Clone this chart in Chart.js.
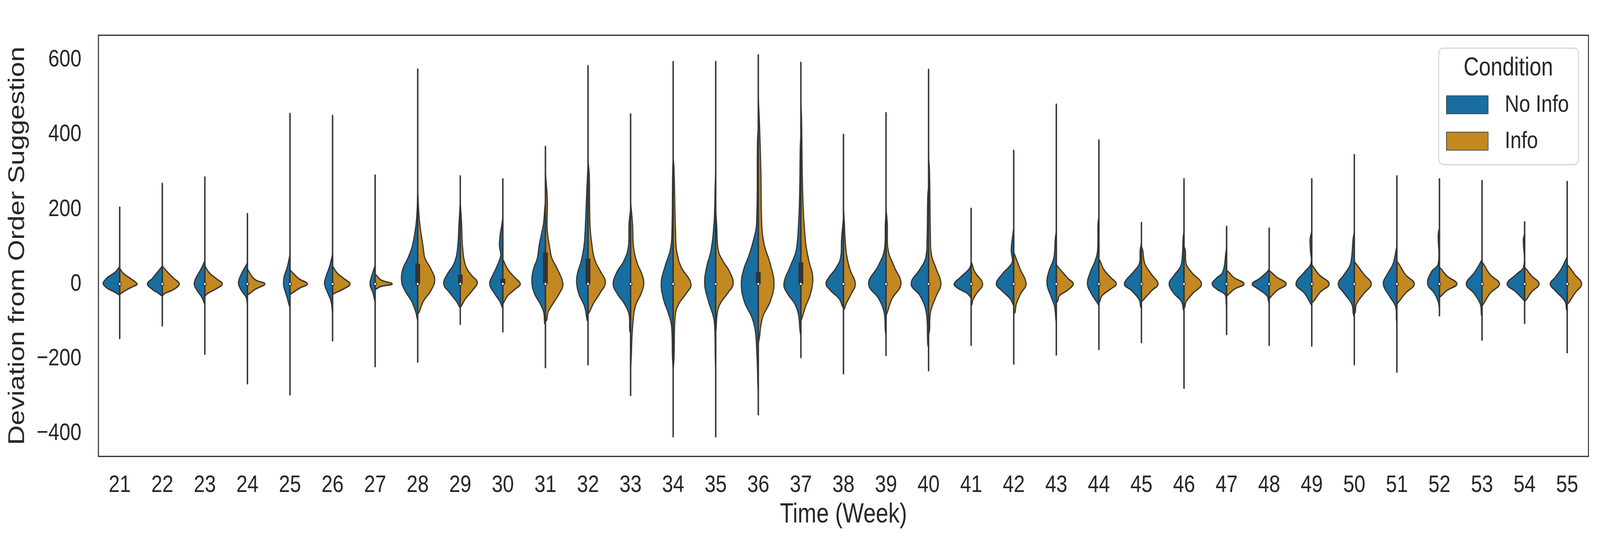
<!DOCTYPE html>
<html>
<head>
<meta charset="utf-8">
<title>Deviation from Order Suggestion by Week</title>
<script src="https://cdn.jsdelivr.net/npm/chart.js@4.4.1/dist/chart.umd.min.js"></script>
<style>
  html, body { margin: 0; padding: 0; background: #ffffff; overflow: hidden; }
  #wrap { position: absolute; left: 0; top: 0; width: 4991px; height: 1387px; transform-origin: 0 0; }
  canvas { display: block; }
</style>
</head>
<body>
<div id="wrap">
<canvas id="violinChart" width="4991" height="1387" style="width:4991px;height:1387px"></canvas>
</div>
<script>
const weeks = [21, 22, 23, 24, 25, 26, 27, 28, 29, 30, 31, 32, 33, 34, 35, 36, 37, 38,
  39, 40, 41, 42, 43, 44, 45, 46, 47, 48, 49, 50, 51, 52, 53, 54, 55];
const conditions = ['No Info', 'Info'];
const yTicks = [-400, -200, 0, 200, 400, 600];

// outline of each half violin, bottom to top: [deviation, half width in weeks]
const noInfoShape = [
  [[-30,0],[-22,.12],[-11,.30],[0,.39],[7,.37],[18,.28],[32,.10],[47,0]],
  [[-33,0],[-25,.09],[-14,.24],[0,.35],[14,.24],[32,.11],[48,0]],
  [[-56,0],[-36,.07],[-18,.18],[0,.25],[18,.20],[40,.09],[62,0]],
  [[-56,0],[-36,.03],[-18,.14],[0,.21],[14,.19],[32,.12],[56,0]],
  [[-65,0],[-32,.08],[-4,.15],[18,.14],[47,.06],[80,0]],
  [[-80,0],[-47,.035],[-25,.11],[0,.19],[18,.16],[47,.07],[80,0]],
  [[-50,0],[-25,.05],[0,.12],[25,.07],[50,0]],
  [[-100,0],[-76,.045],[-47,.14],[-18,.30],[7,.38],[40,.35],[69,.23],[105,.12],[170,.03],[250,0]],
  [[-64,0],[-61,.02],[-47,.09],[-25,.24],[0,.39],[25,.31],[54,.15],[90,.07],[162,.03],[220,0]],
  [[-65,0],[-61,.02],[-47,.07],[-25,.20],[0,.31],[25,.23],[47,.14],[76,.05],[100,.08],[126,.07],[162,.02],[180,0]],
  [[-110,0],[-105,.02],[-76,.04],[-54,.12],[-25,.26],[7,.32],[40,.28],[69,.19],[105,.145],[162,.045],[198,.02],[220,0]],
  [[-100,0],[-97,.02],[-61,.08],[-25,.22],[7,.27],[32,.24],[61,.16],[105,.09],[162,.06],[285,.015],[320,0]],
  [[-130,0],[-126,.02],[-83,.035],[-54,.14],[-25,.32],[0,.41],[32,.32],[61,.16],[97,.055],[162,.035],[200,0]],
  [[-230,0],[-198,.015],[-112,.04],[-76,.12],[-40,.23],[4,.28],[47,.19],[90,.07],[133,.03],[307,.01],[330,0]],
  [[-230,0],[-198,.01],[-126,.02],[-90,.05],[-47,.17],[0,.26],[47,.21],[90,.11],[162,.04],[271,.01],[300,0]],
  [[-300,0],[-271,.01],[-198,.03],[-126,.07],[-90,.15],[-47,.33],[0,.40],[40,.34],[76,.22],[119,.11],[162,.04],[379,.02],[420,0]],
  [[-140,0],[-126,.02],[-83,.055],[-54,.14],[-25,.32],[0,.40],[47,.25],[90,.11],[162,.055],[234,.03],[364,.015],[400,0]],
  [[-65,0],[-61,.02],[-40,.10],[-18,.30],[0,.41],[18,.34],[40,.19],[69,.07],[119,.045],[177,0]],
  [[-140,0],[-126,.015],[-76,.045],[-40,.17],[0,.41],[47,.19],[90,.04],[162,.015],[200,0]],
  [[-170,0],[-162,.02],[-76,.055],[-32,.20],[0,.41],[40,.20],[69,.07],[126,.035],[234,.02],[260,0]],
  [[-40,0],[-36,.015],[-25,.095],[-11,.32],[0,.40],[18,.25],[40,.05],[54,0]],
  [[-58,0],[-54,.02],[-40,.08],[-18,.28],[0,.41],[25,.28],[47,.10],[61,.03],[90,.06],[133,.02],[150,0]],
  [[-100,0],[-97,.01],[-61,.04],[-32,.13],[0,.22],[32,.18],[69,.06],[126,.02],[140,0]],
  [[-58,0],[-54,.02],[-25,.18],[0,.27],[32,.20],[61,.09],[90,.03],[162,.02],[180,0]],
  [[-65,0],[-61,.02],[-43,.05],[-18,.23],[0,.40],[32,.19],[54,.05],[90,.03],[110,0]],
  [[-72,0],[-69,.015],[-47,.06],[-25,.24],[0,.35],[22,.24],[47,.08],[76,.04],[126,.02],[140,0]],
  [[-58,0],[-54,.01],[-29,.035],[-14,.23],[0,.34],[14,.25],[32,.09],[90,.01],[95,0]],
  [[-50,0],[-47,.015],[-32,.05],[-14,.25],[0,.40],[14,.23],[32,.05],[40,0]],
  [[-58,0],[-54,.02],[-25,.17],[0,.37],[32,.17],[54,.02],[90,.03],[119,.04],[140,0]],
  [[-87,0],[-83,.02],[-54,.06],[-25,.24],[0,.38],[25,.24],[54,.09],[119,.03],[140,0]],
  [[-100,0],[-97,.01],[-61,.03],[-32,.18],[0,.32],[25,.23],[54,.09],[90,.02],[100,0]],
  [[-65,0],[-61,.01],[-47,.03],[-25,.12],[0,.28],[32,.19],[54,.03],[133,.03],[150,0]],
  [[-87,0],[-83,.015],[-54,.04],[-25,.19],[0,.37],[32,.17],[61,.02],[66,0]],
  [[-47,0],[-43,.02],[-22,.20],[0,.41],[25,.20],[47,.02],[119,.03],[135,0]],
  [[-72,0],[-69,.015],[-47,.05],[-18,.28],[0,.40],[18,.28],[40,.14],[69,.015],[74,0]]
];

const infoShape = [
  [[-28,0],[-18,.13],[-7,.31],[0,.41],[14,.26],[29,.08],[42,0]],
  [[-32,0],[-25,.07],[-14,.28],[0,.40],[14,.28],[32,.12],[48,0]],
  [[-33,0],[-25,.07],[-14,.25],[0,.41],[14,.27],[29,.11],[48,0]],
  [[-30,0],[-25,.06],[-14,.19],[0,.41],[10,.20],[18,.12],[32,.04],[40,0]],
  [[-28,0],[-25,.045],[-11,.23],[0,.41],[14,.21],[32,.045],[38,0]],
  [[-28,0],[-25,.045],[-14,.25],[0,.41],[14,.27],[29,.11],[48,0]],
  [[-16,0],[-14,.02],[-7,.13],[0,.40],[11,.13],[22,.04],[26,0]],
  [[-80,0],[-76,.03],[-47,.13],[-18,.31],[11,.40],[40,.31],[69,.17],[97,.13],[170,.04],[250,0]],
  [[-62,0],[-58,.03],[-40,.12],[-18,.28],[4,.40],[25,.25],[47,.13],[90,.06],[162,.03],[220,0]],
  [[-54,0],[-50,.02],[-32,.11],[-14,.29],[0,.41],[18,.27],[40,.11],[61,.02],[66,0]],
  [[-100,0],[-97,.03],[-76,.06],[-54,.17],[-25,.33],[0,.41],[40,.28],[69,.15],[90,.11],[148,.04],[220,.045],[300,0]],
  [[-80,0],[-76,.03],[-54,.12],[-25,.28],[4,.41],[32,.30],[61,.17],[97,.10],[162,.045],[292,.03],[330,0]],
  [[-230,0],[-198,.015],[-119,.045],[-61,.11],[-25,.25],[0,.31],[25,.27],[54,.16],[97,.07],[162,.045],[220,0]],
  [[-230,0],[-198,.02],[-83,.05],[-54,.13],[-25,.31],[0,.42],[47,.18],[90,.08],[119,.06],[307,.02],[340,0]],
  [[-125,0],[-119,.01],[-83,.03],[-54,.10],[-25,.28],[0,.41],[32,.33],[61,.17],[90,.06],[162,.02],[200,0]],
  [[-160,0],[-148,.02],[-90,.10],[-47,.28],[0,.37],[54,.28],[105,.14],[162,.08],[307,.06],[451,.02],[500,0]],
  [[-100,0],[-90,.03],[-61,.11],[-25,.23],[18,.28],[61,.19],[112,.11],[234,.045],[451,.015],[480,0]],
  [[-70,0],[-65,.03],[-54,.06],[-25,.19],[0,.28],[40,.15],[90,.06],[177,.015],[200,0]],
  [[-85,0],[-76,.03],[-40,.14],[0,.35],[47,.19],[90,.05],[162,.03],[200,0]],
  [[-135,0],[-126,.02],[-76,.045],[-32,.18],[0,.29],[40,.18],[76,.07],[119,.045],[307,.02],[340,0]],
  [[-58,0],[-54,.02],[-43,.04],[-25,.13],[0,.27],[32,.085],[54,.02],[58,0]],
  [[-80,0],[-76,.03],[-54,.06],[-25,.17],[0,.29],[40,.15],[76,.03],[85,0]],
  [[-50,0],[-47,.03],[-32,.07],[-18,.25],[0,.40],[14,.28],[32,.14],[47,.03],[52,0]],
  [[-50,0],[-47,.02],[-32,.07],[-14,.27],[0,.41],[18,.27],[40,.11],[61,.03],[66,0]],
  [[-48,0],[-43,.04],[-18,.24],[0,.39],[25,.24],[54,.08],[90,.03],[100,0]],
  [[-65,0],[-61,.02],[-47,.05],[-25,.21],[0,.41],[32,.17],[54,.05],[90,.03],[100,0]],
  [[-32,0],[-29,.035],[-14,.18],[0,.41],[18,.16],[32,.045],[36,0]],
  [[-40,0],[-36,.03],[-18,.18],[0,.40],[18,.18],[32,.04],[36,0]],
  [[-50,0],[-47,.04],[-22,.20],[0,.41],[25,.17],[47,.03],[52,0]],
  [[-80,0],[-76,.02],[-54,.05],[-25,.23],[0,.40],[25,.23],[54,.04],[60,0]],
  [[-54,0],[-50,.03],[-25,.20],[0,.41],[25,.20],[54,.045],[60,0]],
  [[-36,0],[-32,.04],[-18,.17],[0,.41],[22,.17],[40,.04],[44,0]],
  [[-58,0],[-54,.03],[-25,.19],[0,.41],[25,.19],[54,.03],[58,0]],
  [[-47,0],[-43,.035],[-22,.16],[0,.34],[22,.16],[40,.035],[44,0]],
  [[-54,0],[-50,.04],[-25,.18],[0,.34],[25,.18],[47,.04],[52,0]]
];

// thin line through each violin: lowest and highest deviation
const tailLow = [-146, -112, -188, -267, -297, -152, -221, -209, -108, -128, -224, -216,
  -298, -409, -409, -350, -197, -240, -191, -232, -164, -214, -190, -175, -157, -279,
  -135, -164, -166, -216, -236, -85, -150, -105, -184];
const tailHigh = [205, 269, 286, 188, 456, 451, 291, 575, 289, 281, 368, 584, 455, 595,
  595, 613, 593, 400, 458, 574, 202, 357, 481, 385, 164, 281, 154, 149, 281, 346, 289,
  281, 276, 166, 274];
// inner box (quartiles) and median
const boxLow = [0, 0, 0, 0, 0, 0, 0, 0, 0, 0, 0, 0, 0, 0, 0, 0, 0, 0, 0, 0, 0, 0, 0, 0,
  0, 0, 0, 0, 0, 0, 0, 0, 0, 0, 0];
const boxHigh = [0, 0, 0, 0, 0, 0, 0, 54, 25, 14, 84, 68, 0, 0, 0, 32, 58, 0, 0, 0, 0, 0,
  0, 0, 0, 0, 0, 0, 0, 0, 0, 0, 0, 0, 0];
const medians = [0, 0, 0, 0, 0, 0, 0, 0, 0, 0, 0, 0, 0, 0, 0, 0, 0, 0, 0, 0, 0, 0, 0, 0,
  0, 0, 0, 0, 0, 0, 0, 0, 0, 0, 0];

const fillColors = ['#186EA0', '#C38820'];
const edgeColor = '#333333';
const textColor = '#262626';
const fontFamily = "'Liberation Sans', Arial, Helvetica, sans-serif";

// the chart is laid out at 4991x1387 and scaled to whatever the window really is
const W = 4991, H = 1387;
const sx = window.innerWidth / W, sy = window.innerHeight / H;
document.getElementById('wrap').style.transform = 'scale(' + sx + ',' + sy + ')';
const ratio = (window.devicePixelRatio || 1) * Math.max(sx, sy);

function halfViolin(week, shape, side, color) {
  return {
    type: 'line',
    indexAxis: 'y',
    data: shape.map(p => ({ x: week + side * p[1], y: p[0] })),
    backgroundColor: color,
    borderColor: edgeColor,
    borderWidth: 3.5,
    borderJoinStyle: 'round',
    fill: 'shape',
    tension: 0.4,
    pointRadius: 0,
    order: 3
  };
}

function centerLine(week, lo, hi, width, cap) {
  return {
    type: 'line',
    indexAxis: 'y',
    data: [{ x: week, y: lo }, { x: week, y: hi }],
    borderColor: edgeColor,
    borderWidth: width,
    borderCapStyle: cap,
    fill: false,
    pointRadius: 0,
    order: width > 8 ? 1 : 2
  };
}

let datasets = [];
weeks.forEach((wk, i) => {
  datasets.push(halfViolin(wk, noInfoShape[i], -1, fillColors[0]));
  datasets.push(halfViolin(wk, infoShape[i], 1, fillColors[1]));
  datasets.push(centerLine(wk, tailLow[i], tailHigh[i], 4.5, 'round'));
  if (boxHigh[i] > boxLow[i]) {
    datasets.push(centerLine(wk, boxLow[i], boxHigh[i], 15, 'butt'));
  }
});
datasets.push({
  type: 'line',
  data: weeks.map((wk, i) => ({ x: wk, y: medians[i] })),
  showLine: false,
  pointRadius: 4,
  pointBackgroundColor: '#ffffff',
  pointBorderColor: edgeColor,
  pointBorderWidth: 2.5,
  order: 0
});

// frame round the plot and the Condition legend
const framePlugin = {
  id: 'frameAndLegend',
  afterDraw(chart) {
    const ctx = chart.ctx;
    const a = chart.chartArea;
    ctx.save();
    ctx.strokeStyle = textColor;
    ctx.lineWidth = 3;
    ctx.strokeRect(a.left, a.top, a.right - a.left, a.bottom - a.top);

    const bw = 436, bh = 298, r = 14;
    const bx = a.right - 31 - bw, by = a.top + 33;
    ctx.beginPath();
    ctx.moveTo(bx + r, by);
    ctx.arcTo(bx + bw, by, bx + bw, by + bh, r);
    ctx.arcTo(bx + bw, by + bh, bx, by + bh, r);
    ctx.arcTo(bx, by + bh, bx, by, r);
    ctx.arcTo(bx, by, bx + bw, by, r);
    ctx.closePath();
    ctx.fillStyle = 'rgba(255,255,255,0.8)';
    ctx.fill();
    ctx.strokeStyle = '#d6d6d6';
    ctx.lineWidth = 3;
    ctx.stroke();

    ctx.fillStyle = textColor;
    ctx.textBaseline = 'middle';
    ctx.textAlign = 'center';
    ctx.font = '66px ' + fontFamily;
    ctx.fillText('Condition', bx + 217, by + 52);

    ctx.textAlign = 'left';
    ctx.font = '62px ' + fontFamily;
    conditions.forEach((name, k) => {
      const py = by + 122 + k * 93;
      ctx.fillStyle = fillColors[k];
      ctx.fillRect(bx + 24, py, 130, 46);
      ctx.strokeStyle = '#444444';
      ctx.lineWidth = 2;
      ctx.strokeRect(bx + 24, py, 130, 46);
      ctx.fillStyle = textColor;
      ctx.fillText(name, bx + 206, py + 24);
    });
    ctx.restore();
  }
};

new Chart(document.getElementById('violinChart'), {
  type: 'line',
  data: { datasets: datasets },
  options: {
    responsive: false,
    animation: false,
    devicePixelRatio: ratio,
    events: [],
    layout: { padding: { top: 33, right: 36, left: 0, bottom: 0 } },
    plugins: {
      legend: { display: false },
      tooltip: { enabled: false }
    },
    scales: {
      x: {
        type: 'linear',
        min: 20.5,
        max: 55.5,
        grid: { display: false, drawTicks: false },
        border: { display: false },
        afterBuildTicks: s => { s.ticks = weeks.map(v => ({ value: v })); },
        afterFit: s => { s.height = 219; },
        ticks: {
          autoSkip: false,
          maxRotation: 0,
          padding: 37,
          color: textColor,
          font: { family: fontFamily, size: 62 },
          callback: v => String(v)
        },
        title: {
          display: true,
          text: 'Time (Week)',
          color: textColor,
          font: { family: fontFamily, size: 70 },
          padding: { top: 0, bottom: 27 }
        }
      },
      y: {
        type: 'linear',
        min: -462,
        max: 666,
        grid: { display: false, drawTicks: false },
        border: { display: false },
        afterBuildTicks: s => { s.ticks = yTicks.map(v => ({ value: v })); },
        afterFit: s => { s.width = 307; },
        ticks: {
          padding: 53,
          color: textColor,
          font: { family: fontFamily, size: 62 },
          callback: v => v < 0 ? '\u2212' + Math.abs(v) : String(v)
        },
        title: {
          display: true,
          text: 'Deviation from Order Suggestion',
          color: textColor,
          font: { family: fontFamily, size: 70 },
          padding: { top: 14, bottom: 0 }
        }
      }
    }
  },
  plugins: [framePlugin]
});
</script>
</body>
</html>
